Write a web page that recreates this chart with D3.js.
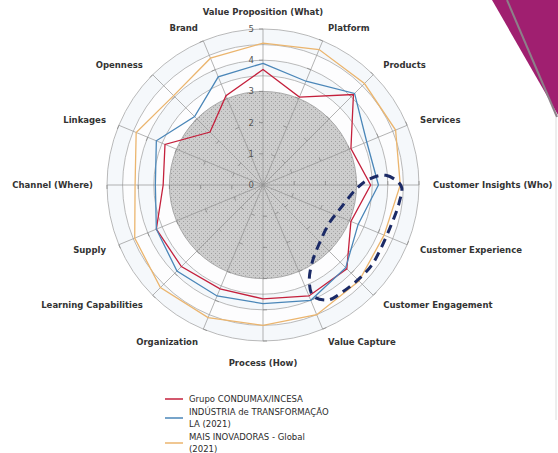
<!DOCTYPE html>
<html>
<head>
<meta charset="utf-8">
<script src="https://cdn.jsdelivr.net/npm/d3@7"></script>
<style>
  body { margin: 0; background: #fff; }
  svg { display: block; }
  text { font-family: "DejaVu Sans", Verdana, sans-serif; }
</style>
</head>
<body>
<div id="chart"></div>
<script>
// axes, clockwise from the top
const axes = [
  "Value Proposition (What)", "Platform", "Products", "Services",
  "Customer Insights (Who)", "Customer Experience", "Customer Engagement", "Value Capture",
  "Process (How)", "Organization", "Learning Capabilities", "Supply",
  "Channel (Where)", "Linkages", "Openness", "Brand"
];
const tickValues = [0, 1, 2, 3, 4, 5];
const ringValues = [3.5, 4, 4.5, 5];

// series values (same order as axes)
const condumax = [3.7, 3.05, 4.1, 3.05, 3.45, 3.05, 3.8, 3.85, 3.65, 3.6, 3.7, 3.7, 3.2, 3.4, 2.4, 3.1];
const industriaLA = [3.9, 3.6, 4.15, 3.6, 3.7, 3.3, 3.75, 4.0, 3.8, 3.85, 3.9, 3.7, 3.45, 3.7, 3.1, 3.75];
const maisInovadoras = [4.55, 4.7, 4.6, 4.6, 4.4, 4.2, 4.35, 4.5, 4.5, 4.6, 4.65, 4.45, 4.1, 4.4, 4.05, 4.4];

const seriesNames = [
  ["Grupo CONDUMAX/INCESA"],
  ["INDÚSTRIA de TRANSFORMAÇÃO", "LA (2021)"],
  ["MAIS INOVADORAS - Global", "(2021)"]
];
const seriesColors = ["#c4203c", "#4a86b8", "#ebb56e"];

// dashed highlight loop: [axis position, value]
const highlight = [
  [3.86, 3.4], [3.8, 3.95], [4.02, 4.43], [4.33, 4.4], [4.79, 4.3], [5.35, 4.3],
  [5.64, 4.33], [6.0, 4.3], [6.41, 4.27], [6.69, 4.23], [6.92, 3.9], [6.85, 3.4],
  [6.52, 2.9], [6.04, 2.6], [5.33, 2.45], [4.73, 2.6], [4.1, 3.0]
];

const width = 558;
const height = 453;
const cx = 263, cy = 185;

const svg = d3.select("#chart").append("svg")
  .attr("width", width)
  .attr("height", height);

// decoration in the top right corner
svg.append("path")
  .attr("d", "M492,0 L558,0 L558,115 Z")
  .attr("fill", "#a01f70");
svg.append("line")
  .attr("x1", 507).attr("y1", 0).attr("x2", 557).attr("y2", 117)
  .attr("stroke", "#8d8089").attr("stroke-width", 2);
svg.append("line")
  .attr("x1", 556).attr("y1", 117).attr("x2", 556).attr("y2", 420)
  .attr("stroke", "#dcdcdc").attr("stroke-width", 1);

const defs = svg.append("defs");
const pat = defs.append("pattern")
  .attr("id", "stipple")
  .attr("width", 4).attr("height", 4)
  .attr("patternUnits", "userSpaceOnUse");
pat.append("rect").attr("width", 4).attr("height", 4).attr("fill", "#cdcdcd");
pat.append("rect").attr("x", 0).attr("y", 0).attr("width", 1).attr("height", 1).attr("fill", "#9c9c9c");
pat.append("rect").attr("x", 2).attr("y", 2).attr("width", 1).attr("height", 1).attr("fill", "#a8a8a8");

const r = d3.scaleLinear().domain([0, 5]).range([0, 156]);
const angle = d3.scaleLinear().domain([0, axes.length]).range([0, 2 * Math.PI]);

const g = svg.append("g").attr("transform", `translate(${cx},${cy})`);

// light bands between rings
g.append("circle").attr("r", r(5)).attr("fill", "#fdfdfe");
g.selectAll("path.band")
  .data([[3.5, 4], [4.5, 5]])
  .enter().append("path")
  .attr("class", "band")
  .attr("d", d => d3.arc()({ innerRadius: r(d[0]), outerRadius: r(d[1]), startAngle: 0, endAngle: 2 * Math.PI }))
  .attr("fill", "#f5f8fb");

// grey disc 0..3
g.append("circle")
  .attr("r", r(3))
  .attr("fill", "url(#stipple)")
  .attr("stroke", "#9a9a9a")
  .attr("stroke-width", 0.8);

// rings
g.selectAll("circle.ring")
  .data(ringValues)
  .enter().append("circle")
  .attr("class", "ring")
  .attr("r", d => r(d))
  .attr("fill", "none")
  .attr("stroke", "#a8a8a8")
  .attr("stroke-width", 0.8);

// spokes
const pt = (i, v) => [Math.sin(angle(i)) * r(v), -Math.cos(angle(i)) * r(v)];
g.selectAll("line.spoke")
  .data(axes)
  .enter().append("line")
  .attr("class", "spoke")
  .attr("x1", 0).attr("y1", 0)
  .attr("x2", (d, i) => pt(i, 5)[0])
  .attr("y2", (d, i) => pt(i, 5)[1])
  .attr("stroke", "#939393")
  .attr("stroke-width", 0.7);

// small tick marks on each spoke
const spokeTicks = [];
axes.forEach((a, i) => tickValues.slice(1).forEach(v => spokeTicks.push([i, v])));
g.selectAll("line.stick")
  .data(spokeTicks)
  .enter().append("line")
  .attr("class", "stick")
  .attr("x1", d => pt(d[0], d[1])[0])
  .attr("y1", d => pt(d[0], d[1])[1])
  .attr("x2", d => pt(d[0], d[1])[0] - Math.cos(angle(d[0])) * 4)
  .attr("y2", d => pt(d[0], d[1])[1] - Math.sin(angle(d[0])) * 4)
  .attr("stroke", "#808080")
  .attr("stroke-width", 0.7);

// scale numbers on the vertical axis
g.selectAll("text.tick")
  .data(tickValues)
  .enter().append("text")
  .attr("class", "tick")
  .attr("x", -9)
  .attr("y", d => -r(d))
  .attr("dy", "0.35em")
  .attr("text-anchor", "end")
  .attr("font-size", 8.5)
  .attr("fill", "#555")
  .text(d => d);

// series
const radar = d3.lineRadial()
  .angle((d, i) => angle(i))
  .radius(d => r(d))
  .curve(d3.curveLinearClosed);

g.selectAll("path.series")
  .data([condumax, industriaLA, maisInovadoras])
  .enter().append("path")
  .attr("class", "series")
  .attr("d", radar)
  .attr("fill", "none")
  .attr("stroke", (d, i) => seriesColors[i])
  .attr("stroke-width", 1.3);

// dashed highlight
g.append("path")
  .attr("d", d3.lineRadial()
    .angle(d => angle(d[0]))
    .radius(d => r(d[1]))
    .curve(d3.curveCatmullRomClosed)(highlight))
  .attr("fill", "none")
  .attr("stroke", "#1b2a66")
  .attr("stroke-width", 3)
  .attr("stroke-dasharray", "9,6");

// axis labels
const labelR = 170;
g.selectAll("text.axis")
  .data(axes)
  .enter().append("text")
  .attr("class", "axis")
  .attr("x", (d, i) => Math.sin(angle(i)) * labelR)
  .attr("y", (d, i) => {
    const c = Math.cos(angle(i));
    const y = -c * labelR;
    if (c > 0.99) return y - 3;
    if (c < -0.99) return y + 8;
    return y;
  })
  .attr("dy", "0.35em")
  .attr("text-anchor", (d, i) => {
    const s = Math.sin(angle(i));
    return Math.abs(s) < 0.01 ? "middle" : (s > 0 ? "start" : "end");
  })
  .attr("font-size", 8.5)
  .attr("font-weight", "bold")
  .attr("fill", "#333")
  .text(d => d);

// legend
const legendTop = [399, 412, 437];
const legend = svg.selectAll("g.legend")
  .data(seriesNames)
  .enter().append("g")
  .attr("class", "legend")
  .attr("transform", (d, i) => `translate(0,${legendTop[i]})`);
legend.append("line")
  .attr("x1", 165).attr("x2", 183)
  .attr("y1", d => (d.length - 1) * 6)
  .attr("y2", d => (d.length - 1) * 6)
  .attr("stroke", (d, i) => seriesColors[i])
  .attr("stroke-width", 1.5);
legend.each(function (d) {
  d3.select(this).selectAll("text")
    .data(d)
    .enter().append("text")
    .attr("x", 189)
    .attr("y", (t, j) => j * 12)
    .attr("dy", "0.35em")
    .attr("font-size", 8.5)
    .attr("fill", "#2b2b2b")
    .text(t => t);
});
</script>
</body>
</html>
